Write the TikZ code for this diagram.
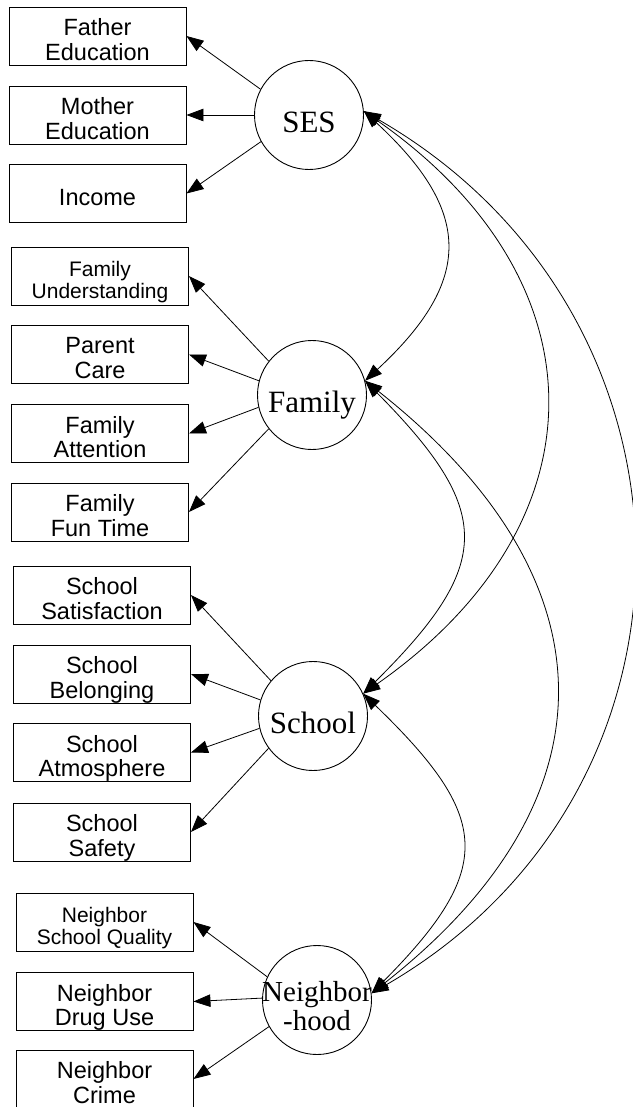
\documentclass[tikz,border=0pt]{standalone}
\usepackage{fontspec}
\setmainfont{Liberation Serif}
\setsansfont{Liberation Sans}
\usetikzlibrary{arrows.meta}

\begin{document}
\begin{tikzpicture}[x=1pt,y=-1pt,
  box/.style={draw, line width=0.9pt, minimum width=177pt, minimum height=58pt, inner sep=0pt},
  boxtext/.style={align=center, inner sep=0pt, font=\sffamily\fontsize{23.5}{23}\selectfont, yshift=-6.9pt},
  smalltext/.style={align=center, inner sep=0pt, font=\sffamily\fontsize{21}{22}\selectfont, yshift=-6.6pt},
  latent/.style={draw, circle, line width=0.9pt, minimum size=109pt, inner sep=0pt},
  lattext/.style={inner sep=0pt, font=\fontsize{31}{31}\selectfont, yshift=-11.5pt},
  lattwo/.style={align=center, inner sep=0pt, font=\fontsize{29}{26}\selectfont, yshift=-9.8pt},
  load/.style={line width=0.8pt, -{Triangle[length=17pt,width=12.5pt]}},
  cov/.style={line width=0.8pt, {Triangle[length=17pt,width=12.5pt]}-{Triangle[length=17pt,width=12.5pt]}},
]
\fill[white] (0,0) rectangle (632,1107);
\useasboundingbox (0,0) rectangle (632,1107);

% latent factors
\node[latent] (ses) at (309,115) {};
\node[lattext] (ses-t) at (ses.center) {SES\strut};
\node[latent] (fam) at (312,395) {};
\node[lattext] (fam-t) at (fam.center) {Family\strut};
\node[latent] (sch) at (313,716) {};
\node[lattext] (sch-t) at (sch.center) {School\strut};
\node[latent] (nbh) at (317,1000) {};
\node[lattwo] (nbh-t) at (nbh.center) {Neighbor\strut\\-hood\strut};

% SES indicators
\node[box] (fe) at (97.5,36) {};
\node[boxtext] (fe-t) at (fe.center) {Father\strut\\Education\strut};
\node[box] (me) at (97.5,115) {};
\node[boxtext] (me-t) at (me.center) {Mother\strut\\Education\strut};
\node[box] (inc) at (97.5,193.5) {};
\node[boxtext] (inc-t) at (inc.center) {Income\strut};

% family indicators
\node[box] (fu) at (100,276) {};
\node[smalltext] (fu-t) at (fu.center) {Family\strut\\Understanding\strut};
\node[box] (pc) at (100,354.5) {};
\node[boxtext] (pc-t) at (pc.center) {Parent\strut\\Care\strut};
\node[box] (fa) at (100,433.5) {};
\node[boxtext] (fa-t) at (fa.center) {Family\strut\\Attention\strut};
\node[box] (fft) at (100,512) {};
\node[boxtext] (fft-t) at (fft.center) {Family\strut\\Fun Time\strut};

% school indicators
\node[box] (ssat) at (102,595) {};
\node[boxtext] (ssat-t) at (ssat.center) {School\strut\\Satisfaction\strut};
\node[box] (sbel) at (102,674) {};
\node[boxtext] (sbel-t) at (sbel.center) {School\strut\\Belonging\strut};
\node[box] (satm) at (102,752.5) {};
\node[boxtext] (satm-t) at (satm.center) {School\strut\\Atmosphere\strut};
\node[box] (ssaf) at (102,832) {};
\node[boxtext] (ssaf-t) at (ssaf.center) {School\strut\\Safety\strut};

% neighborhood indicators
\node[box] (nsq) at (104.5,922) {};
\node[smalltext] (nsq-t) at (nsq.center) {Neighbor\strut\\School Quality\strut};
\node[box] (ndu) at (104.5,1001.5) {};
\node[boxtext] (ndu-t) at (ndu.center) {Neighbor\strut\\Drug Use\strut};
\node[box] (ncr) at (104.5,1079) {};
\node[boxtext] (ncr-t) at (ncr.center) {Neighbor\strut\\Crime\strut};

% loadings
\draw[load] (ses.152) -- (fe.east);
\draw[load] (ses.180) -- (me.east);
\draw[load] (ses.209) -- (inc.east);

\draw[load] (fam.142) -- (fu.east);
\draw[load] (fam.165) -- (pc.east);
\draw[load] (fam.193) -- (fa.east);
\draw[load] (fam.218) -- (fft.east);

\draw[load] (sch.140) -- (ssat.east);
\draw[load] (sch.163) -- (sbel.east);
\draw[load] (sch.193) -- (satm.east);
\draw[load] (sch.216) -- (ssaf.east);

\draw[load] (nbh.155) -- (nsq.east);
\draw[load] (nbh.178) -- (ndu.east);
\draw[load] (nbh.209) -- (ncr.east);

% factor covariances
\draw[cov] (ses.4) .. controls (472,211) and (474,280) .. (fam.15);
\draw[cov] (ses.4) .. controls (605,280) and (607,523) .. (sch.24);
\draw[cov] (ses.4) .. controls (717,315) and (724,789) .. (nbh.7);
\draw[cov] (fam.15) .. controls (494,511) and (494,564) .. (sch.24);
\draw[cov] (fam.15) .. controls (615,578) and (620,798) .. (nbh.7);
\draw[cov] (sch.24) .. controls (491,817) and (496,868) .. (nbh.7);
\end{tikzpicture}
\end{document}
